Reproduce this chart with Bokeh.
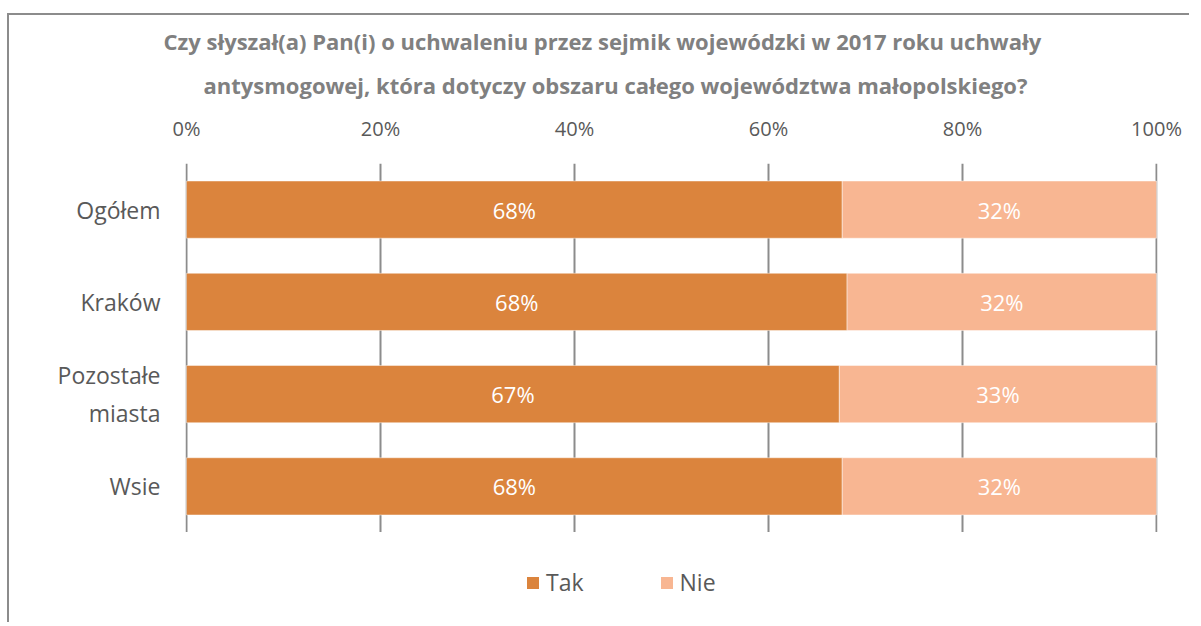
from bokeh.plotting import figure
from bokeh.layouts import column
from bokeh.models import (ColumnDataSource, FactorRange, Range1d, FixedTicker,
                          Title, Legend, LegendItem)
from bokeh.core.properties import value
from bokeh.embed import file_html
from bokeh.resources import INLINE

# ---- data ----
categories = ["Ogółem", "Kraków", "Pozostałe\nmiasta", "Wsie"]
tak = [67.6, 68.1, 67.3, 67.6]
nie = [32.4, 31.9, 32.7, 32.4]
tak_labels = ["68%", "68%", "67%", "68%"]
nie_labels = ["32%", "32%", "33%", "32%"]
series = ["Tak", "Nie"]
colors = ["#DB843D", "#F8B692"]
x_ticks = [0, 20, 40, 60, 80, 100]
x_tick_labels = ["0%", "20%", "40%", "60%", "80%", "100%"]
title_lines = ["Czy słyszał(a) Pan(i) o uchwaleniu przez sejmik wojewódzki w 2017 roku uchwały",
               "antysmogowej, która dotyczy obszaru całego województwa małopolskiego?"]

FONT = "Open Sans"
GREY = "#595959"

src = ColumnDataSource(dict(
    cat=categories, Tak=tak, Nie=nie,
    tak_mid=[t / 2 for t in tak],
    nie_mid=[t + n / 2 for t, n in zip(tak, nie)],
    tak_lbl=tak_labels, nie_lbl=nie_labels,
))

x_range = Range1d(-0.1, 100.1)
y_range = FactorRange(factors=categories[::-1])

p = figure(frame_width=972, frame_height=369,
           x_range=x_range, y_range=y_range,
           x_axis_location="above",
           output_backend="svg", toolbar_location=None, tools="",
           min_border_left=176, min_border_right=32,
           min_border_top=148, min_border_bottom=0)
p.outline_line_color = None
p.margin = 0

renderers = p.hbar_stack(series, y="cat", height=0.62, color=colors,
                         line_color="white", line_alpha=0.45, line_width=1,
                         source=src)

p.text(x="tak_mid", y="cat", text="tak_lbl", source=src,
       text_font=value(FONT), text_font_size="22px", text_color="white",
       text_align="center", text_baseline="middle")
p.text(x="nie_mid", y="cat", text="nie_lbl", source=src,
       text_font=value(FONT), text_font_size="22px", text_color="white",
       text_align="center", text_baseline="middle")

# axes
xa = p.xaxis[0]
xa.ticker = FixedTicker(ticks=x_ticks)
xa.major_label_overrides = {t: l for t, l in zip(x_ticks, x_tick_labels)}
xa.axis_line_color = None
xa.major_tick_line_color = None
xa.minor_tick_line_color = None
xa.major_label_text_font = FONT
xa.major_label_text_font_size = "20px"
xa.major_label_text_color = GREY
xa.major_label_standoff = 16

ya = p.yaxis[0]
ya.axis_line_color = None
ya.major_tick_line_color = None
ya.minor_tick_line_color = None
ya.major_label_text_font = FONT
ya.major_label_text_font_size = "23px"
ya.major_label_text_color = GREY
ya.major_label_standoff = 19

p.xgrid.ticker = FixedTicker(ticks=x_ticks)
p.xgrid.grid_line_color = "#8c8c8c"
p.xgrid.grid_line_width = 2
p.ygrid.grid_line_color = None

# titles
t2 = Title(text=title_lines[1], align="left", offset=18,
           text_font=FONT, text_font_size="22px", text_font_style="bold",
           text_color="#808080", standoff=24)
t1 = Title(text=title_lines[0], align="left", offset=-22,
           text_font=FONT, text_font_size="22px", text_font_style="bold",
           text_color="#808080", standoff=0)
p.title = None
p.above = [xa, t2, t1]

# legend strip below the chart (hidden copies of the series supply the legend glyphs)
pl = figure(width=1180, height=90, x_range=x_range, y_range=y_range,
            x_axis_type=None, y_axis_type=None,
            output_backend="svg", toolbar_location=None, tools="",
            min_border=0)
pl.outline_line_color = None
pl.grid.visible = False
pl.margin = 0
leg_renderers = pl.hbar_stack(series, y="cat", height=0.62, color=colors,
                              line_color=None, source=src)
for r in leg_renderers:
    r.visible = False
legend = Legend(items=[LegendItem(label=s, renderers=[r]) for s, r in zip(series, leg_renderers)],
                orientation="horizontal", location=(330, 14),
                glyph_width=15, glyph_height=15, label_standoff=6, spacing=75,
                label_text_font=FONT, label_text_font_size="23px",
                label_text_color=GREY, border_line_alpha=0,
                background_fill_alpha=0, margin=0)
pl.add_layout(legend, "center")

layout = column(p, pl, spacing=0,
                styles={"border-left": "2px solid #8c8c8c", "border-top": "2px solid #8c8c8c"})
layout.margin = (13, 0, 0, 7)

open("out.html", "w").write(file_html(layout, INLINE))
